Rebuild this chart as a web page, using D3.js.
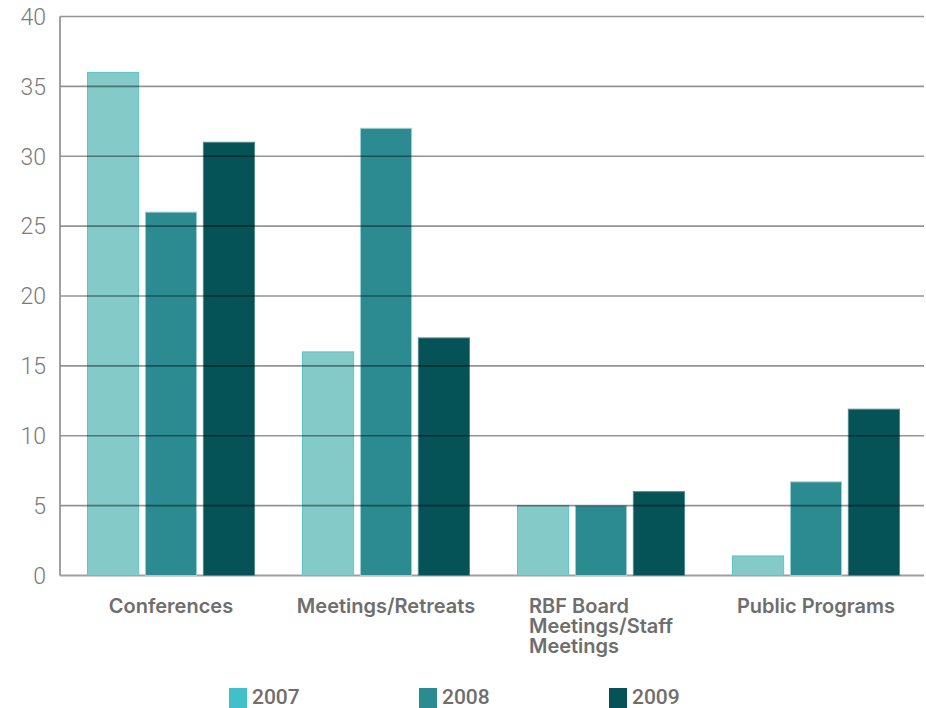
<!DOCTYPE html>
<html>
<head>
<meta charset="utf-8">
<script src="https://cdn.jsdelivr.net/npm/d3@7"></script>
<style>
  body { margin: 0; background: #fff; }
  svg { display: block; }
  .tick-label { font-family: Roboto, "Liberation Sans", sans-serif; font-weight: 300; font-size: 23px; fill: #7a7a7a; }
  .cat-label { font-family: Inter, Roboto, "Liberation Sans", sans-serif; font-weight: 600; font-size: 20px; fill: #6e6e6e; }
  .legend-label { font-family: Roboto, "Liberation Sans", sans-serif; font-weight: 500; font-size: 21px; fill: #6e6e6e; }
</style>
</head>
<body>
<div id="chart"></div>
<script>
const categories = ["Conferences", "Meetings/Retreats", "RBF Board Meetings/Staff Meetings", "Public Programs"];
const years = ["2007", "2008", "2009"];
const values_2007 = [36, 16, 5, 1.4];
const values_2008 = [26, 32, 5, 6.7];
const values_2009 = [31, 17, 6, 11.9];
const y_ticks = [0, 5, 10, 15, 20, 25, 30, 35, 40];

const fills = { "2007": "#84cac8", "2008": "#2b8b91", "2009": "#055257" };
const strokes = { "2007": "#5cc3c7", "2008": "#9ccfd1", "2009": "#4f8a8d" };
const legend_fills = { "2007": "#40c0c8", "2008": "#2b8b91", "2009": "#055257" };

const W = 926, H = 708;
const margin = { left: 60, right: 924, top: 16.5, bottom: 575.5 };

const series = { "2007": values_2007, "2008": values_2008, "2009": values_2009 };
const rows = categories.map((c, i) => ({ cat: c, vals: years.map(y => ({ year: y, v: series[y][i] })) }));

const svg = d3.select("#chart").append("svg").attr("width", W).attr("height", H);

const x0 = d3.scaleBand().domain(categories).range([62, 925])
  .paddingInner(0.2186).paddingOuter(0.1163);
const x1 = d3.scaleBand().domain(years).range([0, x0.bandwidth()]).paddingInner(0.1);
const y = d3.scaleLinear().domain([0, 40]).range([margin.bottom, margin.top]);

// baseline under bars
svg.append("line")
  .attr("x1", margin.left).attr("x2", margin.right)
  .attr("y1", y(0)).attr("y2", y(0))
  .attr("stroke", "#a0a0a0").attr("stroke-width", 2);

// bars
const groups = svg.append("g").selectAll("g")
  .data(rows)
  .join("g")
  .attr("transform", d => `translate(${x0(d.cat)},0)`);

groups.selectAll("rect")
  .data(d => d.vals)
  .join("rect")
  .attr("x", d => x1(d.year) + 0.5)
  .attr("width", x1.bandwidth() - 1)
  .attr("y", d => y(d.v))
  .attr("height", d => y(0) - y(d.v))
  .attr("fill", d => fills[d.year])
  .attr("stroke", d => strokes[d.year])
  .attr("stroke-width", 1);

// gridlines on top of bars
svg.append("g").selectAll("line")
  .data(y_ticks.filter(t => t > 0))
  .join("line")
  .attr("x1", margin.left).attr("x2", margin.right)
  .attr("y1", d => y(d)).attr("y2", d => y(d))
  .attr("stroke", "rgba(0,0,0,0.42)")
  .attr("stroke-width", 1.6);

// y axis line
svg.append("line")
  .attr("x1", margin.left).attr("x2", margin.left)
  .attr("y1", y(40)).attr("y2", y(0))
  .attr("stroke", "#8a8a8a").attr("stroke-width", 1.6);

// y tick labels
svg.append("g").selectAll("text")
  .data(y_ticks)
  .join("text")
  .attr("class", "tick-label")
  .attr("x", 46)
  .attr("y", d => y(d))
  .attr("dy", "0.36em")
  .attr("text-anchor", "end")
  .text(d => d);

// category labels, wrapped and left-aligned inside a centred block
function wrap_words(text, max_w, measure) {
  const words = text.split(" ");
  const lines = [];
  let cur = "";
  for (const w of words) {
    const t = cur ? cur + " " + w : w;
    if (cur && measure(t) > max_w) { lines.push(cur); cur = w; }
    else cur = t;
  }
  lines.push(cur);
  return lines;
}

const measurer = svg.append("text").attr("class", "cat-label").attr("visibility", "hidden");
const measure = s => { measurer.text(s); return measurer.node().getComputedTextLength(); };

const cat_g = svg.append("g");
categories.forEach(c => {
  const lines = wrap_words(c, 195, measure);
  const block_w = d3.max(lines, measure);
  const cx = x0(c) + x0.bandwidth() / 2;
  const t = cat_g.append("text")
    .attr("class", "cat-label")
    .attr("x", cx - block_w / 2)
    .attr("y", 613);
  lines.forEach((ln, i) => {
    t.append("tspan")
      .attr("x", cx - block_w / 2)
      .attr("y", 613 + i * 20)
      .text(ln);
  });
});
measurer.remove();

// legend
const legend = svg.append("g").selectAll("g")
  .data(years)
  .join("g")
  .attr("transform", (d, i) => `translate(${229 + i * 190},688)`);
legend.append("rect")
  .attr("width", 18).attr("height", 20)
  .attr("fill", d => legend_fills[d]);
legend.append("text")
  .attr("class", "legend-label")
  .attr("x", 23).attr("y", 16)
  .text(d => d);
</script>
</body>
</html>
